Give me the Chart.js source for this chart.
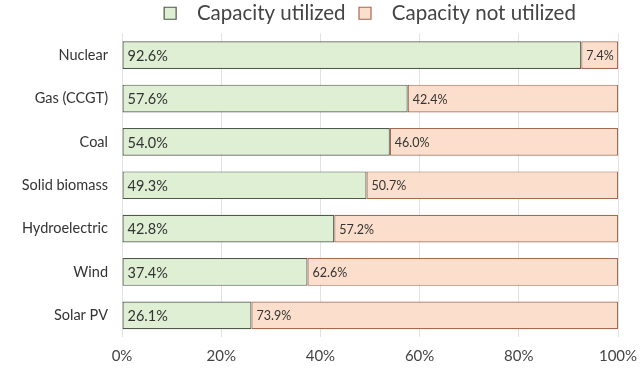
<!DOCTYPE html>
<html>
<head>
<meta charset="utf-8">
<script src="https://cdn.jsdelivr.net/npm/chart.js@4"></script>
<style>
  body { margin: 0; background: #fff; }
  #wrap { width: 644px; height: 373px; }
</style>
</head>
<body>
<div id="wrap"><canvas id="myChart"></canvas></div>
<script>
// data
const categories = ['Nuclear', 'Gas (CCGT)', 'Coal', 'Solid biomass', 'Hydroelectric', 'Wind', 'Solar PV'];
const utilized = [92.6, 57.6, 54.0, 49.3, 42.8, 37.4, 26.1];
const notUtilized = [7.4, 42.4, 46.0, 50.7, 57.2, 62.6, 73.9];
const xTicks = [0, 20, 40, 60, 80, 100];

// writes the value at the start of each segment
const segLabels = {
    id: 'segLabels',
    afterDatasetsDraw(chart) {
        const ctx = chart.ctx;
        ctx.save();
        ctx.textBaseline = 'middle';
        ctx.textAlign = 'left';
        chart.data.datasets.forEach((ds, i) => {
            const meta = chart.getDatasetMeta(i);
            ctx.font = i === 0 ? '14.5px Lato' : '12.5px Lato';
            ctx.fillStyle = '#333';
            meta.data.forEach((bar, j) => {
                ctx.fillText(ds.data[j].toFixed(1) + '%', Math.min(bar.base, bar.x) + 5, bar.y + 1);
            });
        });
        ctx.restore();
    }
};

const myChart = new Chart(document.getElementById('myChart'), {
    type: 'bar',
    data: {
        labels: categories,
        datasets: [{
            label: 'Capacity utilized',
            data: utilized,
            backgroundColor: '#deefd3',
            borderColor: '#4d5a4a',
            borderWidth: 1.2,
            borderSkipped: false
        }, {
            label: 'Capacity not utilized',
            data: notUtilized,
            backgroundColor: '#fbdfcc',
            borderColor: '#a46a50',
            borderWidth: 1.2,
            borderSkipped: false
        }]
    },
    options: {
        indexAxis: 'y',
        responsive: true,
        maintainAspectRatio: false,
        animation: false,
        layout: { padding: { left: 8, right: 26, top: 0, bottom: 0 } },
        datasets: { bar: { categoryPercentage: 0.8, barPercentage: 0.8 } },
        plugins: {
            tooltip: { enabled: false },
            legend: {
                position: 'top',
                fullSize: false,
                labels: {
                    boxWidth: 12,
                    boxHeight: 12,
                    padding: 3,
                    color: '#444',
                    font: { family: 'Lato', size: 20.5 },
                    generateLabels: chart => {
                        const items = Chart.defaults.plugins.legend.labels.generateLabels(chart);
                        items.forEach((it, k) => {
                            it.text = '  ' + it.text + (k === 0 ? '  ' : '');
                        });
                        return items;
                    }
                }
            }
        },
        scales: {
            x: {
                stacked: true,
                min: 0,
                max: 100,
                afterBuildTicks: axis => { axis.ticks = xTicks.map(v => ({ value: v })); },
                afterFit: axis => {
                    axis.height = 36;
                    axis.paddingLeft = 0;
                    axis.paddingRight = 0;
                },
                ticks: {
                    callback: v => v + '%',
                    color: '#444',
                    padding: 10,
                    font: { family: 'Lato', size: 15 }
                },
                grid: { color: '#e2e2e2', drawTicks: false },
                border: { display: false }
            },
            y: {
                stacked: true,
                afterFit: axis => { axis.width = 114; },
                ticks: {
                    color: '#333',
                    padding: 6,
                    font: { family: 'Lato', size: 14.5 }
                },
                grid: { display: false },
                border: { display: false }
            }
        }
    },
    plugins: [segLabels]
});
</script>
</body>
</html>
